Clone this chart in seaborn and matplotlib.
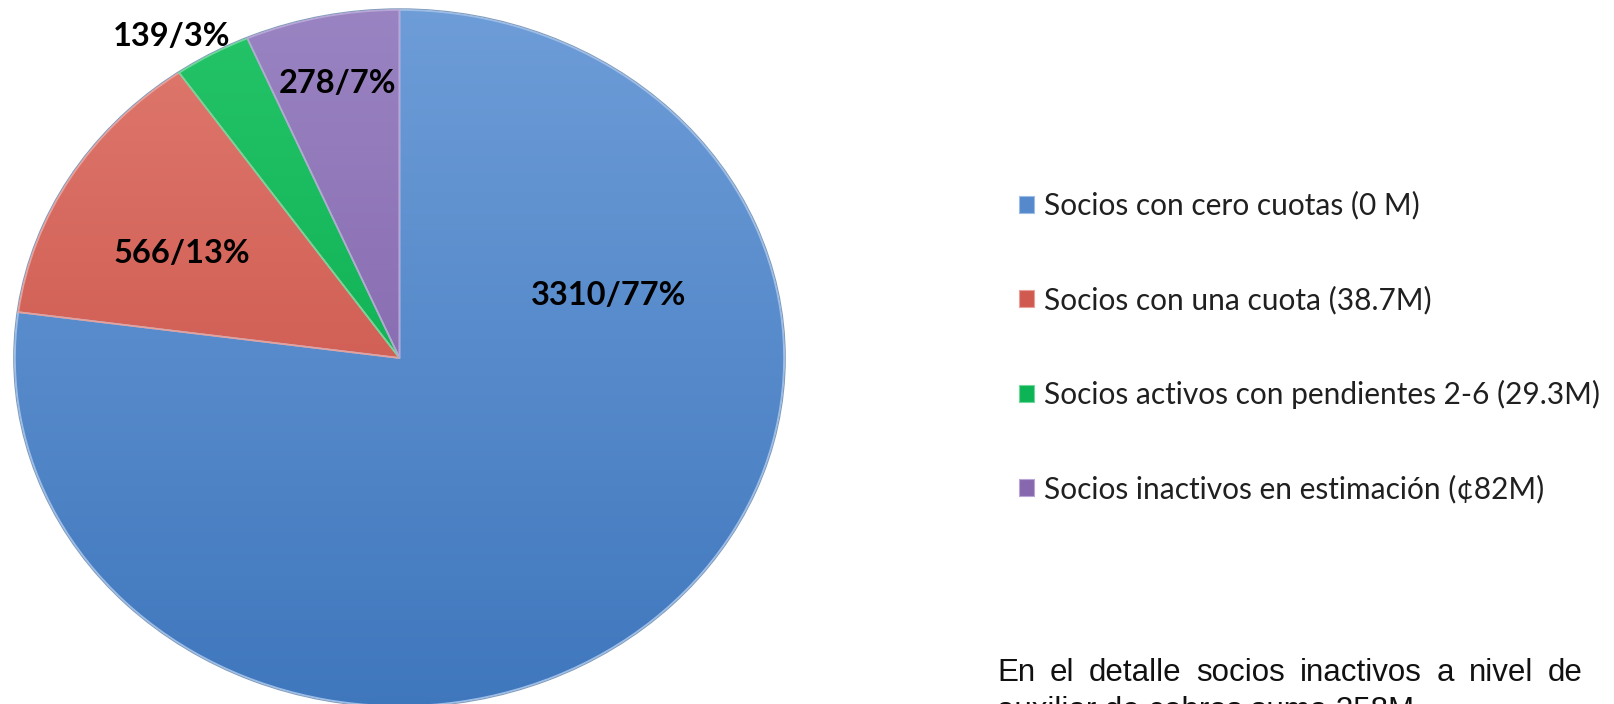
import numpy as np
import matplotlib
matplotlib.use("Agg")
import matplotlib.pyplot as plt
import seaborn as sns
from matplotlib.colors import LinearSegmentedColormap, to_rgb

# ---- data ----
categories = [
    "Socios con cero cuotas (0 M)",
    "Socios con una cuota (38.7M)",
    "Socios activos con pendientes 2-6 (29.3M)",
    "Socios inactivos en estimación (¢82M)",
]
values = [3310, 566, 139, 278]
pct_labels = ["3310/77%", "566/13%", "139/3%", "278/7%"]
note_lines = ["En el detalle socios inactivos a nivel de",
              "auxiliar de cobros suma 358M"]

# styling
base_colors = ["#5589CC", "#D05A50", "#0DB456", "#8767AE"]
top_colors = ["#6E9DD8", "#E07A70", "#25C468", "#9A84C2"]
bot_colors = ["#3F77BD", "#C3463C", "#00A448", "#7A58A4"]
edge_colors = ["#9DBDE6", "#E8A09A", "#6FD89A", "#B7A6D6"]
label_pos = [(0.545, 0.18), (-0.565, 0.30), (-0.594, 0.925), (-0.16, 0.79)]

sns.set_theme(style="white")
plt.rcParams["font.family"] = ["Lato", "DejaVu Sans"]

W, H = 1614, 704
fig = plt.figure(figsize=(W / 100, H / 100), dpi=100)
fig.patch.set_facecolor("white")

# pie axes: horizontally stretched ellipse
left_px, right_px, top_px, bot_px = 15, 784, 10, 706
ax = fig.add_axes([left_px / W, (H - bot_px) / H,
                   (right_px - left_px) / W, (bot_px - top_px) / H])

wedges, _ = ax.pie(values, colors=base_colors, startangle=90,
                   counterclock=False, radius=1.0,
                   wedgeprops=dict(linewidth=0))

# vertical gradient fill clipped to each wedge
yy = np.linspace(0, 1, 256).reshape(-1, 1)
for w, tc, bc in zip(wedges, top_colors, bot_colors):
    cmap = LinearSegmentedColormap.from_list("g", [to_rgb(tc), to_rgb(bc)])
    im = ax.imshow(yy, extent=(-1.02, 1.02, -1.02, 1.02), origin="upper",
                   cmap=cmap, aspect="auto", zorder=w.get_zorder() + 0.5,
                   interpolation="bilinear")
    im.set_clip_path(w)

# light bevel edges
edges, _ = ax.pie(values, startangle=90, counterclock=False, radius=1.0,
                  wedgeprops=dict(fill=False, linewidth=1.2))
for e, ec in zip(edges, edge_colors):
    e.set_edgecolor(ec)
    e.set_zorder(5)

# outer shadow rim
rim, _ = ax.pie([1], startangle=90, radius=1.003,
                wedgeprops=dict(fill=False, linewidth=1.0, edgecolor="#2E5A8E"))
for r in rim:
    r.set_zorder(4)
    r.set_alpha(0.6)

for txt, (x, y) in zip(pct_labels, label_pos):
    ax.text(x, y, txt, ha="center", va="center", fontsize=23.5,
            fontweight="bold", color="black", zorder=10)

ax.set_aspect("auto")
ax.set_xlim(-1, 1)
ax.set_ylim(-1, 1)
ax.axis("off")

# legend
handles = [plt.Rectangle((0, 0), 1, 1, facecolor=c, edgecolor=e, linewidth=0.8)
           for c, e in zip(base_colors, edge_colors)]
leg = fig.legend(handles, categories, loc="upper left",
                 bbox_to_anchor=(1007 / W, 1 - 179 / H),
                 frameon=False, fontsize=21.5, handlelength=0.5,
                 handleheight=0.5, handletextpad=0.35, labelspacing=2.2,
                 borderaxespad=0)
for t in leg.get_texts():
    t.set_color("#202020")

# bottom note: first line justified, second line cut off at the edge
note_font = dict(fontsize=22.5, family=["Liberation Sans", "DejaVu Sans"],
                 color="#111111", va="baseline")
x0, x1 = 997, 1583
y_line1 = 1 - 681 / H
y_line2 = 1 - 719 / H
renderer = fig.canvas.get_renderer()
words = note_lines[0].split()
word_txts = [fig.text(0, y_line1, wd, ha="left", **note_font) for wd in words]
widths = [t.get_window_extent(renderer=renderer).width for t in word_txts]
gap = ((x1 - x0) - sum(widths)) / (len(words) - 1)
xpos = x0
for t, wdt in zip(word_txts, widths):
    t.set_x(xpos / W)
    xpos += wdt + gap
fig.text(x0 / W, y_line2, note_lines[1], ha="left", **note_font)

fig.savefig("out.png", dpi=100, facecolor="white")
